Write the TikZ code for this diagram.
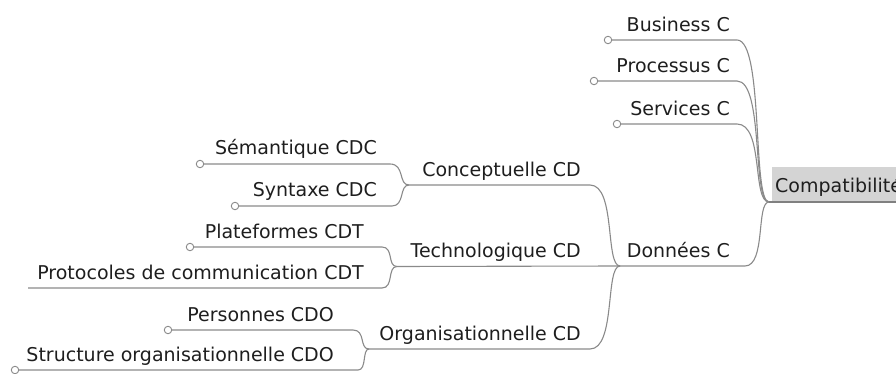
\documentclass[tikz,border=0pt]{standalone}
\usepackage{fontspec}
\setmainfont{DejaVu Sans}
\definecolor{linegray}{HTML}{8A8A8A}
\definecolor{rootfill}{HTML}{D4D4D4}
\definecolor{txt}{HTML}{1E1E1E}
\begin{document}
\begin{tikzpicture}[x=1pt,y=-1pt,
  topic/.style={inner sep=0pt, anchor=base east, text=txt, font=\fontsize{19}{20}\selectfont},
  dot/.style={circle, draw=linegray, fill=white, line width=0.9pt, minimum size=7.5pt, inner sep=0pt},
  branch/.style={draw=linegray, line width=1.1pt}]
\useasboundingbox (0,0) rectangle (896,374);
% root
\fill[rootfill] (772,167) rectangle (900,202);
\node[topic, anchor=base west] (root) at (775,193) {Compatibilité};
\coordinate (j0) at (769,202);
\coordinate (rootend) at (900,202);
\draw[draw=gray, line width=1.3pt] (j0) -- (rootend);
% level 1
\node[topic] (bus) at (730,32) {Business C};
\node[topic] (pro) at (730,72.5) {Processus C};
\node[topic] (ser) at (730,115.5) {Services C};
\node[topic] (don) at (730,257) {Données C};
\coordinate (bus-e) at (737,40);
\coordinate (pro-e) at (737,81);
\coordinate (ser-e) at (737,124);
\coordinate (don-e) at (745,266);
\coordinate (j1) at (620,266);
\node[dot] (bus-c) at (608,40) {};
\node[dot] (pro-c) at (594,81) {};
\node[dot] (ser-c) at (617,124) {};
\draw[branch] (bus-c) -- (bus-e) .. controls (764,40) and (752,202) .. (j0);
\draw[branch] (pro-c) -- (pro-e) .. controls (764,81) and (752,202) .. (j0);
\draw[branch] (ser-c) -- (ser-e) .. controls (764,124) and (752,202) .. (j0);
\draw[branch] (j1) -- (don-e) .. controls (766,266) and (756,202) .. (j0);
% level 2
\node[topic] (con) at (581,176) {Conceptuelle CD};
\node[topic] (tec) at (581,257.5) {Technologique CD};
\node[topic] (org) at (581,340) {Organisationnelle CD};
\coordinate (j2a) at (409,185);
\coordinate (j2b) at (397,266.5);
\coordinate (j2c) at (369,349);
\coordinate (con-e) at (590,185);
\coordinate (org-e) at (590,349);
\draw[branch] (j2a) -- (con-e) .. controls (616,185) and (605,266) .. (j1);
\draw[branch] (j2b) -- (j1);
\draw[branch] (j2c) -- (org-e) .. controls (616,349) and (605,266) .. (j1);
% level 3
\node[topic] (sem) at (377,155) {Sémantique CDC};
\node[topic] (syn) at (377,196.5) {Syntaxe CDC};
\node[topic] (pla) at (364,238) {Plateformes CDT};
\node[topic] (prt) at (364,279.5) {Protocoles de communication CDT};
\node[topic] (per) at (334,321) {Personnes CDO};
\node[topic] (str) at (334,361) {Structure organisationnelle CDO};
\coordinate (sem-e) at (390,164);
\coordinate (syn-e) at (392,206);
\coordinate (pla-e) at (382,247);
\coordinate (prt-e) at (382,288);
\coordinate (prt-s) at (28,288);
\coordinate (per-e) at (353,330);
\coordinate (str-e) at (358,370);
\node[dot] (sem-c) at (200,164) {};
\node[dot] (syn-c) at (235,206) {};
\node[dot] (pla-c) at (190,247) {};
\node[dot] (per-c) at (168,330) {};
\node[dot] (str-c) at (15,370) {};
\draw[branch] (sem-c) -- (sem-e) .. controls (405,164) and (398,185) .. (j2a);
\draw[branch] (syn-c) -- (syn-e) .. controls (405,206) and (399,185) .. (j2a);
\draw[branch] (pla-c) -- (pla-e) .. controls (394,247) and (387,266.5) .. (j2b);
\draw[branch] (prt-s) -- (prt-e) .. controls (394,288) and (387,266.5) .. (j2b);
\draw[branch] (per-c) -- (per-e) .. controls (366,330) and (359,349) .. (j2c);
\draw[branch] (str-c) -- (str-e) .. controls (367,370) and (362,349) .. (j2c);
\end{tikzpicture}
\end{document}
